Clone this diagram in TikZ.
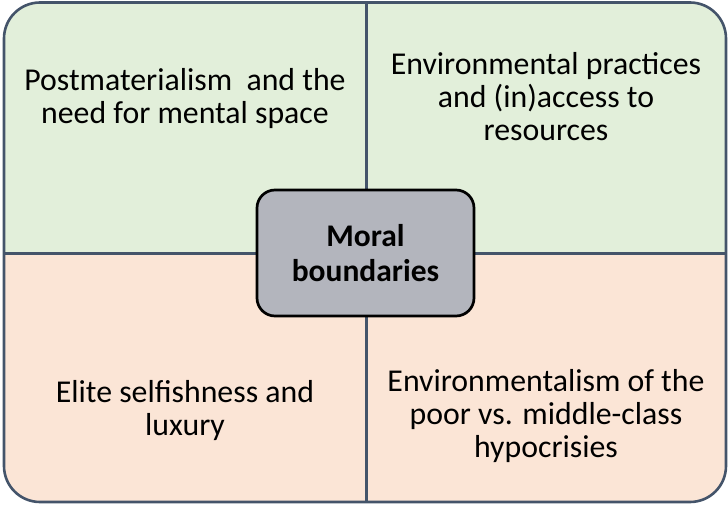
\documentclass[tikz,border=0pt]{standalone}
\usepackage{fontspec}
\setmainfont{Carlito}
\definecolor{frameblue}{HTML}{44546A}
\definecolor{quadgreen}{HTML}{E2EFDA}
\definecolor{quadpeach}{HTML}{FBE5D6}
\definecolor{coregray}{HTML}{B3B5BD}
\tikzset{
  quadtext/.style={align=center, font=\fontsize{31.8}{33}\selectfont, text=black, inner sep=0pt},
  corebox/.style={draw=black, line width=2.7pt, fill=coregray, rounded corners=18pt,
    minimum width=217pt, minimum height=126pt, align=center,
    font=\bfseries\fontsize{31.5}{35}\selectfont},
  divider/.style={draw=frameblue, line width=3pt}
}
\begin{document}
\begin{tikzpicture}[x=1pt,y=-1pt]
\useasboundingbox (0,0) rectangle (728,506);
% quadrant fills inside the rounded frame
\begin{scope}
  \clip[rounded corners=36pt] (4,2.5) rectangle (726,502);
  \fill[quadgreen] (0,0) rectangle (728,253);
  \fill[quadpeach] (0,253) rectangle (728,506);
\end{scope}
% dividers
\coordinate (vtop) at (366,2.5);
\coordinate (vbot) at (366,502);
\coordinate (hleft) at (4,253);
\coordinate (hright) at (726,253);
\draw[divider] (vtop) -- (vbot);
\draw[divider] (hleft) -- (hright);
% outer frame
\draw[frameblue, line width=2.6pt, rounded corners=36pt] (4,2.5) rectangle (726,502);
% quadrant texts
\node[quadtext] (tl) at (185,98.5) {Postmaterialism~ and the\\need for mental space};
\node[quadtext] (tr) at (546,96.5) {Environmental practices\\and (in)access to\\resources};
\node[quadtext] (bl) at (185,411) {Elite selfishness and\\luxury};
\node[quadtext] (br) at (546,416.5) {Environmentalism of the\\poor vs. middle-class\\hypocrisies};
% centre box
\node[corebox] (core) at (365.5,253) {Moral\\boundaries};
\end{tikzpicture}
\end{document}
